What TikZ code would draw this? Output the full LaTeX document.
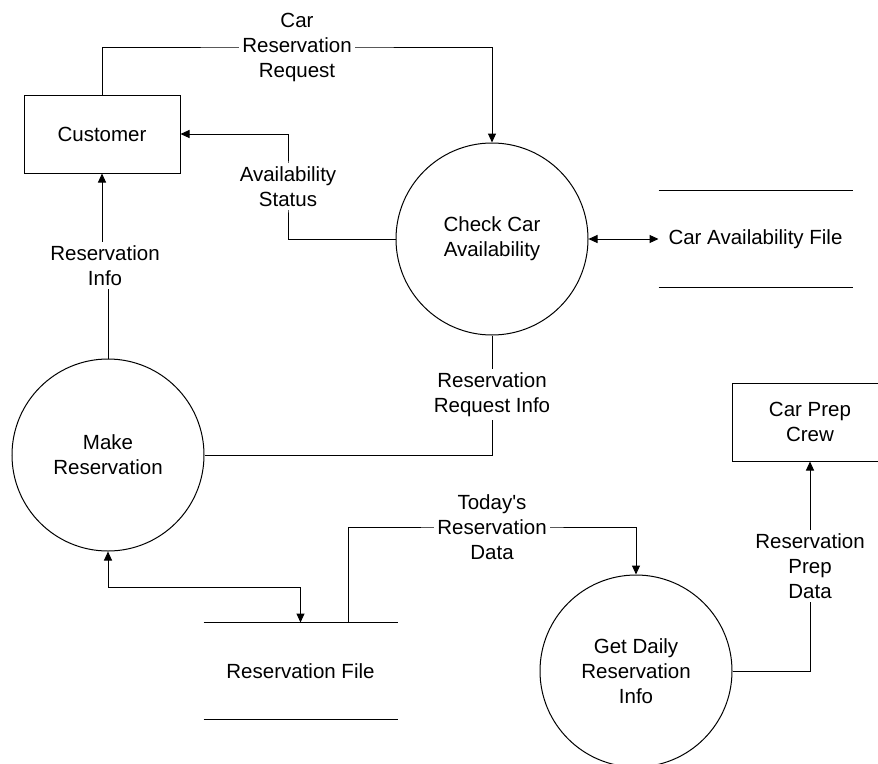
\documentclass[tikz,border=0pt]{standalone}
\usepackage{fontspec}
\setmainfont{Liberation Sans}
\usetikzlibrary{arrows.meta}
\begin{document}
\begin{tikzpicture}[x=1pt,y=-1pt, line width=1pt,
  every node/.style={font=\fontsize{20.5}{25}\selectfont, align=center},
  proc/.style={circle, draw, minimum size=192pt, inner sep=0pt},
  entity/.style={rectangle, draw, minimum width=156pt, minimum height=78pt, inner sep=0pt},
  store/.style={rectangle, minimum width=193pt, minimum height=96pt, inner sep=0pt},
  flowlabel/.style={fill=white, inner xsep=3pt, inner ysep=3pt},
  >={Triangle[length=9pt,width=8pt]}]
\useasboundingbox (0,0) rectangle (878,763);
\clip (0,0) rectangle (878,763);

% entities and processes
\node[entity] (cust) at (102,134) {Customer};
\node[entity] (cpc) at (810,422) {Car Prep\\Crew};
\node[proc] (cca) at (492,239) {Check Car\\Availability};
\node[proc] (mr) at (108,455) {Make\\Reservation};
\node[proc] (gdr) at (636,671) {Get Daily\\Reservation\\Info};

% data stores
\node[store] (caf) at (755.5,239) {Car Availability File};
\node[store] (rf) at (300.5,671) {Reservation File};
\draw (caf.north west) -- (caf.north east) (caf.south west) -- (caf.south east);
\draw (rf.north west) -- (rf.north east) (rf.south west) -- (rf.south east);

% label anchors
\coordinate (p1) at (297,47);
\coordinate (p2) at (288,186.5);
\coordinate (p3) at (105,265.5);
\coordinate (p4) at (492,394.5);
\coordinate (p5) at (492,527);
\coordinate (p6) at (810,566);

% flows
\draw[->] (cust.north) |- (p1) -| (cca.north);
\draw[->] (cca.west) -| (p2) |- (cust.east);
\draw[->] (mr.north) |- (p3) -| (cust.south);
\draw (cca.south) |- (mr.east);
\draw[<->] (cca.east) -- (caf.west);
\draw[<->] (mr.south) -- ++(0,36) -| (rf.north);
\draw[->] ([xshift=47.5pt]rf.north) |- (p5) -| (gdr.north);
\draw[->] (gdr.east) -| (cpc.south);

% labels
\node[flowlabel] (l1) at (p1) {Car\\Reservation\\Request};
\node[flowlabel] (l2) at (p2) {Availability\\Status};
\node[flowlabel] (l3) at (p3) {Reservation\\Info};
\node[flowlabel] (l4) at (p4) {Reservation\\Request Info};
\node[flowlabel] (l5) at (p5) {Today\textquotesingle s\\Reservation\\Data};
\node[flowlabel] (l6) at (p6) {Reservation\\Prep\\Data};
\end{tikzpicture}
\end{document}
